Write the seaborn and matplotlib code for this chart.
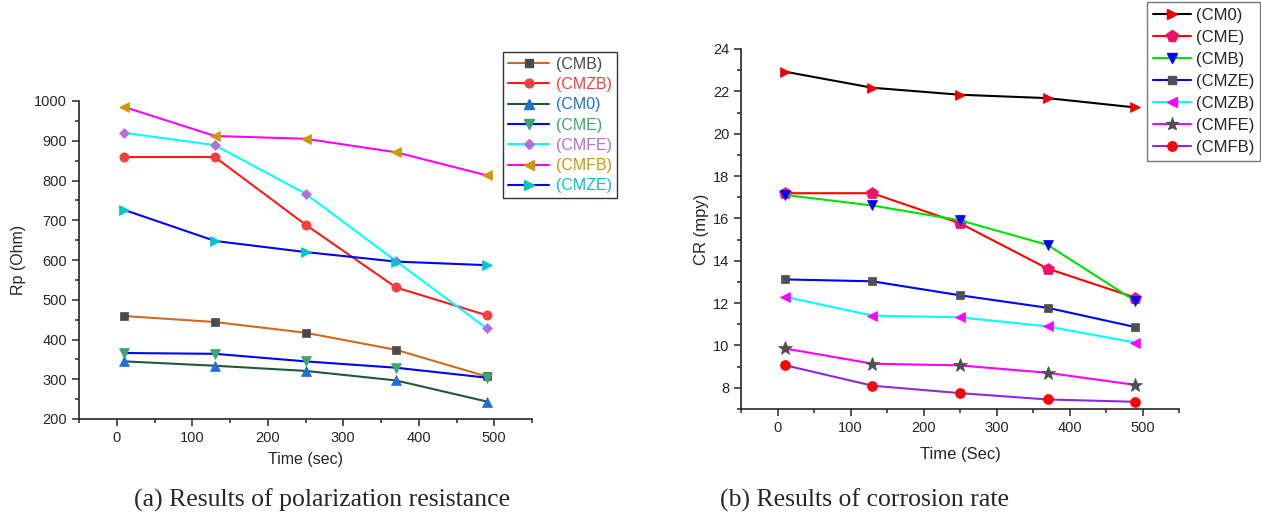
import numpy as np
import pandas as pd
import matplotlib
matplotlib.use("Agg")
import matplotlib.pyplot as plt
from matplotlib.lines import Line2D
from matplotlib.ticker import MultipleLocator
import seaborn as sns

sns.set_style("ticks")
plt.rcParams['font.family'] = ['Liberation Sans', 'DejaVu Sans']

time = [10, 130, 250, 370, 490]

# (a) polarization resistance, Rp (Ohm)
rp_names = ["(CMB)", "(CMZB)", "(CM0)", "(CME)", "(CMFE)", "(CMFB)", "(CMZE)"]
rp_CMB = [459, 444, 417, 374, 307]
rp_CMZB = [859, 859, 689, 531, 461]
rp_CM0 = [345, 334, 321, 297, 244]
rp_CME = [366, 364, 345, 329, 304]
rp_CMFE = [920, 889, 767, 597, 428]
rp_CMFB = [985, 912, 905, 871, 813]
rp_CMZE = [726, 648, 620, 596, 587]

# (b) corrosion rate, CR (mpy)
cr_names = ["(CM0)", "(CME)", "(CMB)", "(CMZE)", "(CMZB)", "(CMFE)", "(CMFB)"]
cr_CM0 = [22.93, 22.17, 21.84, 21.68, 21.24]
cr_CME = [17.19, 17.19, 15.77, 13.63, 12.26]
cr_CMB = [17.11, 16.61, 15.91, 14.75, 12.10]
cr_CMZE = [13.12, 13.03, 12.37, 11.78, 10.87]
cr_CMZB = [12.30, 11.41, 11.33, 10.90, 10.14]
cr_CMFE = [9.86, 9.14, 9.06, 8.71, 8.14]
cr_CMFB = [9.07, 8.10, 7.75, 7.45, 7.34]

rp_vals = [rp_CMB, rp_CMZB, rp_CM0, rp_CME, rp_CMFE, rp_CMFB, rp_CMZE]
cr_vals = [cr_CM0, cr_CME, cr_CMB, cr_CMZE, cr_CMZB, cr_CMFE, cr_CMFB]

rp_style = [  # line color, marker, marker color
    ("#d2691e", "s", "#4a4a4a"),
    ("#ff1a1a", "o", "#f04040"),
    ("#1f5a35", "^", "#1e6fdc"),
    ("#0000ff", "v", "#3aa86a"),
    ("#00ffff", "D", "#b070e0"),
    ("#ff00ff", "<", "#cc9900"),
    ("#0000ff", ">", "#00c4cc"),
]
cr_style = [
    ("#000000", ">", "#ee0000"),
    ("#ff0000", "p", "#f0106a"),
    ("#00e000", "v", "#0000ff"),
    ("#0000ff", "s", "#505050"),
    ("#00ffff", "<", "#ff00ff"),
    ("#ff00ff", "*", "#505050"),
    ("#8a2be2", "o", "#ff0000"),
]

fig = plt.figure(figsize=(12.61, 5.18), dpi=100)
W, H = 1261, 518
ax1 = fig.add_axes([79 / W, 1 - 419 / H, (532 - 79) / W, (419 - 101) / H])
ax2 = fig.add_axes([741 / W, 1 - 409 / H, (1179 - 741) / W, (409 - 49) / H])

SIZE_ADJ = {"s": 0.85, "o": 0.95, "D": 0.8, "*": 1.35, "p": 1.2}


def draw(ax, names, vals, styles, msize):
    handles = []
    for name, v, (lc, m, mc) in zip(names, vals, styles):
        df = pd.DataFrame({"t": time, "v": v})
        ms = msize * SIZE_ADJ.get(m, 1.0)
        sns.lineplot(data=df, x="t", y="v", ax=ax, color=lc, lw=1.5,
                     marker=m, markersize=ms, markerfacecolor=mc,
                     markeredgecolor=mc, markeredgewidth=0.5, legend=False)
        handles.append(Line2D([0], [0], color=lc, lw=1.5, marker=m,
                              markersize=ms * 0.95, markerfacecolor=mc,
                              markeredgecolor=mc))
    return handles


h1 = draw(ax1, rp_names, rp_vals, rp_style, 7)
h2 = draw(ax2, cr_names, cr_vals, cr_style, 7.5)

for ax in (ax1, ax2):
    sns.despine(ax=ax)
    ax.spines['left'].set_linewidth(1.2)
    ax.spines['bottom'].set_linewidth(1.2)
    ax.set_xlim(-50, 550)
    ax.xaxis.set_major_locator(MultipleLocator(100))
    ax.xaxis.set_minor_locator(MultipleLocator(50))
    ax.tick_params(which='major', direction='out', length=5, width=1.1, labelsize=10.5)
    ax.tick_params(which='minor', direction='out', length=3, width=1.1)

ax1.set_ylim(200, 1000)
ax1.yaxis.set_major_locator(MultipleLocator(100))
ax1.yaxis.set_minor_locator(MultipleLocator(50))
ax2.set_ylim(7, 24)
ax2.yaxis.set_major_locator(MultipleLocator(2))
ax2.yaxis.set_minor_locator(MultipleLocator(1))

ax1.set_xlabel("Time (sec)", fontsize=11.5, labelpad=5)
ax1.set_ylabel("Rp (Ohm)", fontsize=11.5, labelpad=6)
ax2.set_xlabel("Time (Sec)", fontsize=12, labelpad=9)
ax2.set_ylabel("CR (mpy)", fontsize=12, labelpad=3)

leg1 = fig.legend(handles=h1, labels=rp_names, loc='upper left',
                  bbox_to_anchor=(503 / W, 1 - 52 / H), frameon=True,
                  fancybox=False, edgecolor='black', fontsize=11.5,
                  handlelength=2.6, handletextpad=0.4, labelspacing=0.33,
                  borderpad=0.3, borderaxespad=0)
leg1.get_frame().set_linewidth(1.0)
for t, (_, _, mc) in zip(leg1.get_texts(), rp_style):
    t.set_color(mc)

leg2 = fig.legend(handles=h2, labels=cr_names, loc='upper left',
                  bbox_to_anchor=(1147 / W, 1 - 2 / H), frameon=True,
                  fancybox=False, edgecolor='#555555', fontsize=12,
                  handlelength=2.3, handletextpad=0.3, labelspacing=0.42,
                  borderpad=0.35, borderaxespad=0)
leg2.get_frame().set_linewidth(1.0)

fig.text(322 / W, 1 - 500 / H, "(a) Results of polarization resistance",
         ha='center', va='center', fontsize=18.5, family='Liberation Serif')
fig.text(865 / W, 1 - 500 / H, "(b) Results of corrosion rate",
         ha='center', va='center', fontsize=18.5, family='Liberation Serif')

fig.savefig("out.png", dpi=100)
